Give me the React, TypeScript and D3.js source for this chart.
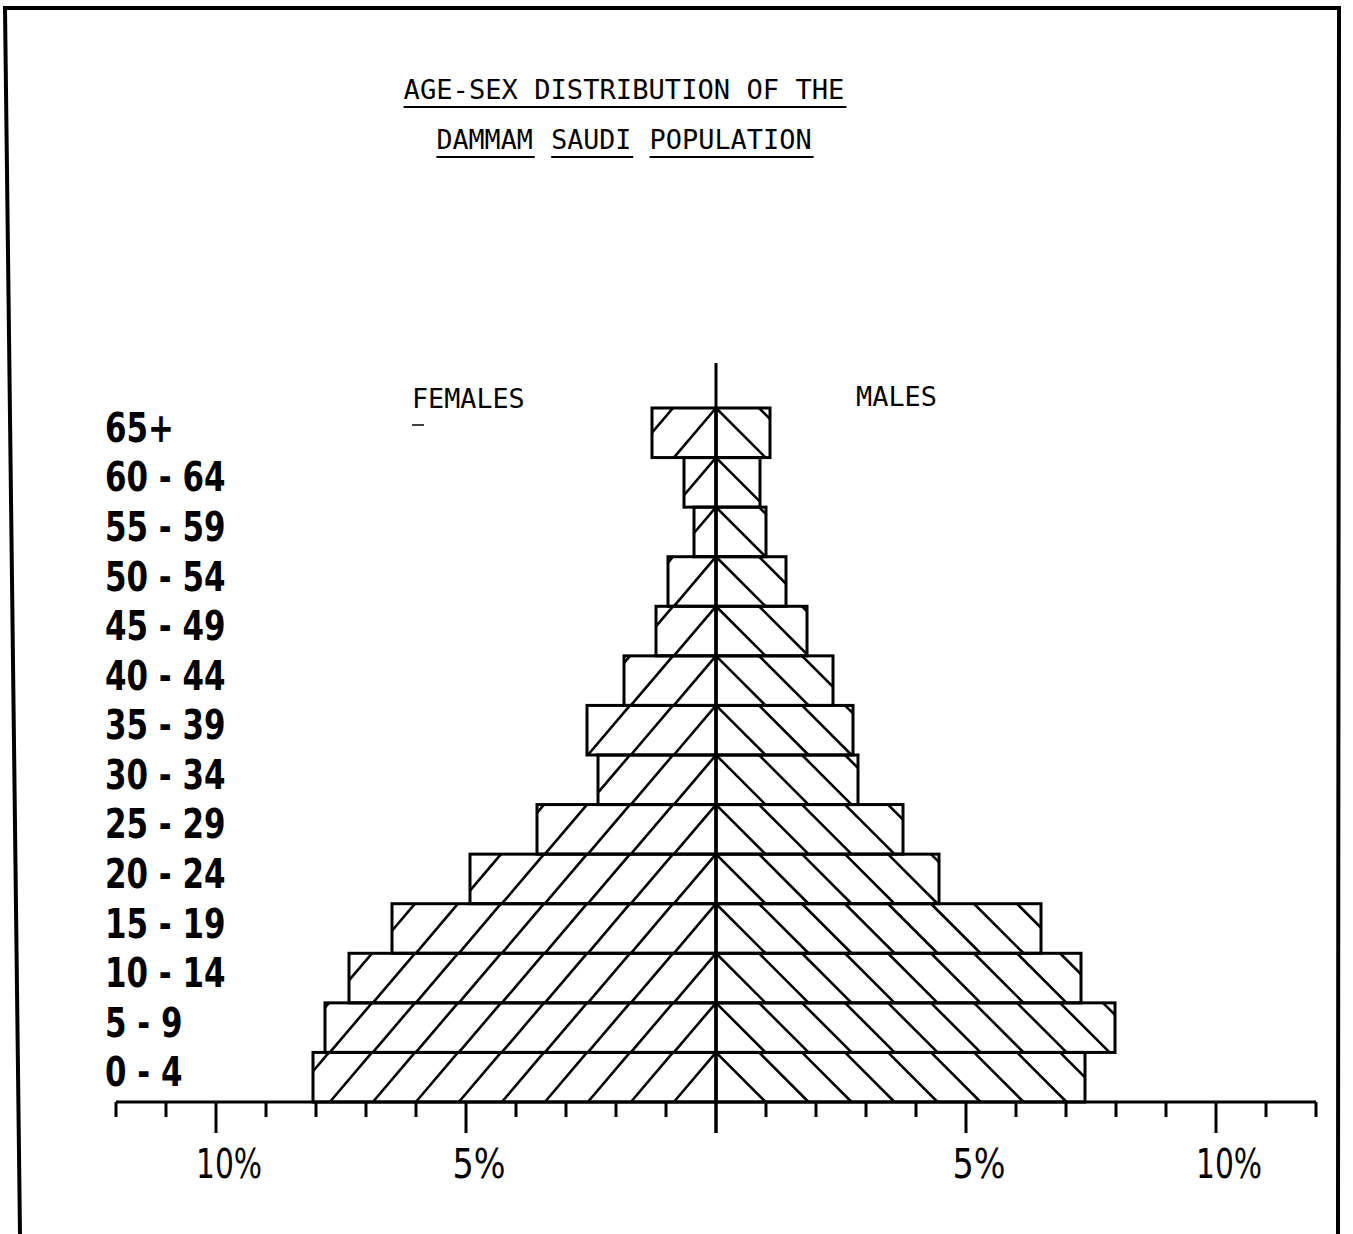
import React from "react";
import * as d3 from "d3";

const AGE_GROUPS = ["0 - 4", "5 - 9", "10 - 14", "15 - 19", "20 - 24", "25 - 29", "30 - 34", "35 - 39", "40 - 44", "45 - 49", "50 - 54", "55 - 59", "60 - 64", "65+"];
const FEMALES = [8.06, 7.82, 7.34, 6.48, 4.92, 3.58, 2.36, 2.58, 1.84, 1.2, 0.96, 0.44, 0.64, 1.28];
const MALES = [7.38, 7.98, 7.3, 6.5, 4.46, 3.74, 2.84, 2.74, 2.34, 1.82, 1.4, 1.0, 0.88, 1.08];
const TICKS = d3.range(-12, 13);
const LABELED_TICKS = [-10, -5, 5, 10];
const TITLE_LINE1 = "AGE-SEX DISTRIBUTION OF THE";
const TITLE_LINE2_WORDS = ["DAMMAM", "SAUDI", "POPULATION"];
const SIDE_LABELS = ["FEMALES", "MALES"];

const W = 1353;
const H = 1234;
const CHAR_W = 16.4;
const MONO = "'DejaVu Sans Mono', 'Liberation Mono', monospace";
const COND = "'DejaVu Sans Condensed', 'DejaVu Sans', sans-serif";

export default function App() {
  const x = d3.scaleLinear().domain([-12, 12]).range([116, 1316]);
  const y = d3.scaleBand<string>().domain(AGE_GROUPS).range([1102, 408]);
  const bw = y.bandwidth();
  const cx = x(0);
  const axisY = 1102;
  const hatchStep = 43;
  const slopeF = 0.85;
  const slopeM = 1.0;

  const hatch: { x1: number; y1: number; x2: number; y2: number }[] = [];
  AGE_GROUPS.forEach((g, i) => {
    const top = y(g) as number;
    const bottom = top + bw;
    const left = x(-FEMALES[i]);
    const right = x(MALES[i]);
    for (let tx = cx; tx > left; tx -= hatchStep) {
      const yEnd = Math.min(bottom, top + (tx - left) / slopeF);
      hatch.push({ x1: tx, y1: top, x2: tx - slopeF * (yEnd - top), y2: yEnd });
    }
    for (let tx = cx; tx < right; tx += hatchStep) {
      const yEnd = Math.min(bottom, top + (right - tx) / slopeM);
      hatch.push({ x1: tx, y1: top, x2: tx + slopeM * (yEnd - top), y2: yEnd });
    }
  });

  const t1W = TITLE_LINE1.length * CHAR_W;
  const t1Left = 625 - t1W / 2;
  const line2 = TITLE_LINE2_WORDS.join(" ");
  const t2Left = 625 - (line2.length * CHAR_W) / 2;
  let idx = 0;
  const words = TITLE_LINE2_WORDS.map((w) => {
    const start = t2Left + idx * CHAR_W;
    idx += w.length + 1;
    return { w, start, end: start + w.length * CHAR_W };
  });

  return (
    <div style={{ position: "absolute", left: 0, top: 0 }}>
      <svg width={W} height={H} style={{ display: "block", background: "#fff" }}>
        <rect x={0} y={0} width={W} height={H} fill="#fff" />
        <path d="M20,1234 L5,8 L1339,8 L1338,1234" fill="none" stroke="#000" strokeWidth={4} />

        <text x={t1Left} y={99} fontFamily={MONO} fontSize={27} textLength={t1W - 2} lengthAdjust="spacingAndGlyphs" fill="#000">
          {TITLE_LINE1}
        </text>
        <line x1={t1Left} x2={t1Left + t1W} y1={107} y2={107} stroke="#000" strokeWidth={2} />
        {words.map((d) => (
          <g key={d.w}>
            <text x={d.start} y={149} fontFamily={MONO} fontSize={27} textLength={d.end - d.start - 2} lengthAdjust="spacingAndGlyphs" fill="#000">
              {d.w}
            </text>
            <line x1={d.start} x2={d.end} y1={157} y2={157} stroke="#000" strokeWidth={2} />
          </g>
        ))}

        <text x={412} y={408} fontFamily={MONO} fontSize={26} textLength={SIDE_LABELS[0].length * 16.1} lengthAdjust="spacingAndGlyphs" fill="#000">
          {SIDE_LABELS[0]}
        </text>
        <line x1={412} x2={424} y1={425} y2={425} stroke="#000" strokeWidth={1.5} />
        <text x={856} y={406} fontFamily={MONO} fontSize={26} textLength={SIDE_LABELS[1].length * 16.2} lengthAdjust="spacingAndGlyphs" fill="#000">
          {SIDE_LABELS[1]}
        </text>

        {hatch.map((l, i) => (
          <line key={"h" + i} x1={l.x1} y1={l.y1} x2={l.x2} y2={l.y2} stroke="#000" strokeWidth={2.6} />
        ))}

        {AGE_GROUPS.map((g, i) => (
          <g key={g}>
            <rect x={x(-FEMALES[i])} y={y(g)} width={cx - x(-FEMALES[i])} height={bw} fill="none" stroke="#000" strokeWidth={3} />
            <rect x={cx} y={y(g)} width={x(MALES[i]) - cx} height={bw} fill="none" stroke="#000" strokeWidth={3} />
          </g>
        ))}

        <line x1={cx} x2={cx} y1={363} y2={1133} stroke="#000" strokeWidth={3} />

        <line x1={x(-12)} x2={x(12)} y1={axisY} y2={axisY} stroke="#000" strokeWidth={3} />
        {TICKS.map((t) => (
          <line
            key={"t" + t}
            x1={x(t)}
            x2={x(t)}
            y1={axisY}
            y2={t % 5 === 0 ? axisY + 31 : axisY + 15}
            stroke="#000"
            strokeWidth={3}
          />
        ))}
        {LABELED_TICKS.map((t) => (
          <text key={"l" + t} x={x(t) + 13} y={1178} textAnchor="middle" fontFamily={COND} fontSize={40} fill="#000" textLength={Math.abs(t) >= 10 ? 66 : 53} lengthAdjust="spacingAndGlyphs">
            {Math.abs(t) + "%"}
          </text>
        ))}

        {AGE_GROUPS.map((g) => (
          <text
            key={"a" + g}
            transform={`translate(105,${(y(g) as number) + bw / 2 + 9}) scale(0.86,1)`}
            fontFamily={COND}
            fontWeight="bold"
            fontSize={40}
            fill="#000"
          >
            {g}
          </text>
        ))}
      </svg>
    </div>
  );
}
